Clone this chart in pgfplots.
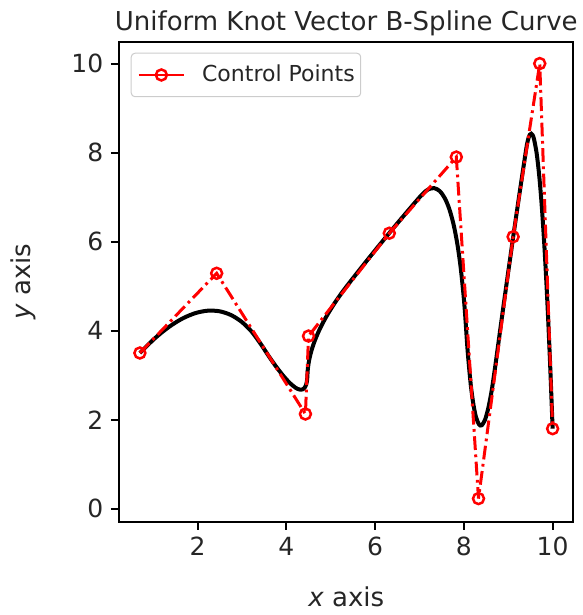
\documentclass[border=0pt]{standalone}
\usepackage{fontspec}
\setmainfont{DejaVu Sans}
\usepackage{pgfplots}
\pgfplotsset{compat=1.18}
\begin{document}
\begin{tikzpicture}
\begin{axis}[
  scale only axis,
  width=181.6pt, height=192pt,
  xmin=0.235, xmax=10.465, ymin=-0.29, ymax=10.49,
  xtick={2,4,6,8,10}, ytick={0,2,4,6,8,10},
  xtick pos=bottom, ytick pos=left,
  tick align=outside,
  major tick length=3.3pt,
  tick style={black, line width=0.8pt},
  axis line style={black, line width=0.8pt},
  /pgf/number format/assume math mode=true,
  ticklabel style={font=\fontsize{10}{12}\selectfont, inner sep=0pt, text=black!85},
  xticklabel style={anchor=base, yshift=-10pt},
  yticklabel style={anchor=east, xshift=-2.9pt},
  title={Uniform Knot Vector B-Spline Curve},
  title style={at={(rel axis cs:0.5,1)}, anchor=base, yshift=-1.4pt, inner sep=0pt, font=\fontsize{10.4}{12}\selectfont, text=black!85},
  xlabel={\textit{x} axis},
  ylabel={\textit{y} axis},
  xlabel style={at={(rel axis cs:0.5,0)}, anchor=base, yshift=-33.7pt, inner sep=0pt, font=\fontsize{10.4}{12}\selectfont, text=black!85},
  ylabel style={at={(rel axis cs:0,0.5)}, anchor=base, yshift=35.5pt, inner sep=0pt, font=\fontsize{10.4}{12}\selectfont, text=black!85},
  legend style={at={(rel axis cs:0,1)}, anchor=north west, xshift=4.6pt, yshift=-4.4pt,
    draw=black!20, rounded corners=1.5pt, fill=white, fill opacity=0.8, text opacity=1, draw opacity=1,
    inner xsep=2.4pt, inner ysep=4.6pt, font=\fontsize{8.8}{10}\selectfont,
    nodes={inner sep=0pt, text=black!85}},
  legend cell align=left,
  legend image code/.code={\path[draw=none, fill=none] (0pt,0pt) -- (25.4pt,0pt);\draw[#1, solid, line width=1.1pt, mark repeat=2, mark phase=2] plot coordinates {(0pt,0pt) (9.1pt,0pt) (18.2pt,0pt)};},
]
\addplot[black, line width=1.6pt, smooth, tension=0.5, forget plot] coordinates {
(0.7,3.5) (1.033,3.826) (1.353,4.084) (1.659,4.274) (1.952,4.396) (2.231,4.45)
(2.497,4.436) (2.749,4.354) (2.988,4.204) (3.213,3.986) (3.425,3.7)
(3.62,3.405) (3.795,3.16) (3.95,2.965) (4.085,2.82) (4.2,2.725) (4.25,2.696)
(4.295,2.68) (4.335,2.676) (4.37,2.685) (4.4,2.706) (4.425,2.74) (4.445,2.786)
(4.46,2.845) (4.47,2.916) (4.475,3.0) (4.480,3.091) (4.489,3.183) (4.52,3.37)
(4.569,3.563) (4.635,3.76) (4.719,3.963) (4.82,4.17) (4.939,4.383) (5.075,4.6)
(5.229,4.823) (5.4,5.05) (5.754,5.498) (6.096,5.922) (6.426,6.322) (6.744,6.698)
(7.05,7.05) (7.195,7.173) (7.33,7.202) (7.455,7.137) (7.57,6.978) (7.675,6.725)
(7.77,6.378) (7.855,5.937) (7.93,5.402) (7.995,4.773) (8.024,4.423) (8.05,4.05)
(8.075,3.682) (8.102,3.348) (8.156,2.782) (8.214,2.352) (8.274,2.058) (8.338,1.9)
(8.37,1.872) (8.404,1.878) (8.474,1.992) (8.546,2.242) (8.622,2.628) (8.7,3.15)
(8.856,4.29) (9.004,5.35) (9.144,6.33) (9.276,7.23) (9.4,8.05) (9.43,8.22)
(9.46,8.339) (9.49,8.407) (9.52,8.424) (9.55,8.391) (9.58,8.307) (9.64,7.986)
(9.7,7.463) (9.76,6.736) (9.82,5.807) (9.88,4.674) (9.94,3.339) (10,1.8)
};
\addplot[red, line width=1.2pt, dash pattern=on 5.5pt off 1.8pt on 1.1pt off 1.8pt,
  mark=o, mark size=2.2pt, mark options={solid, fill=white, line width=1.0pt}] coordinates {
(0.7,3.5) (2.43,5.29) (4.43,2.13) (4.5,3.88) (6.32,6.19) (7.83,7.9) (8.33,0.23) (9.11,6.11) (9.71,10.0) (10.0,1.8)
};
\addlegendentry{Control Points}
\end{axis}
\pgfresetboundingbox
\path[use as bounding box] (current axis.south west) ++(-47.7pt,-37.3pt) rectangle ([xshift=3.5pt,yshift=16.7pt]current axis.north east);
\end{tikzpicture}
\end{document}
